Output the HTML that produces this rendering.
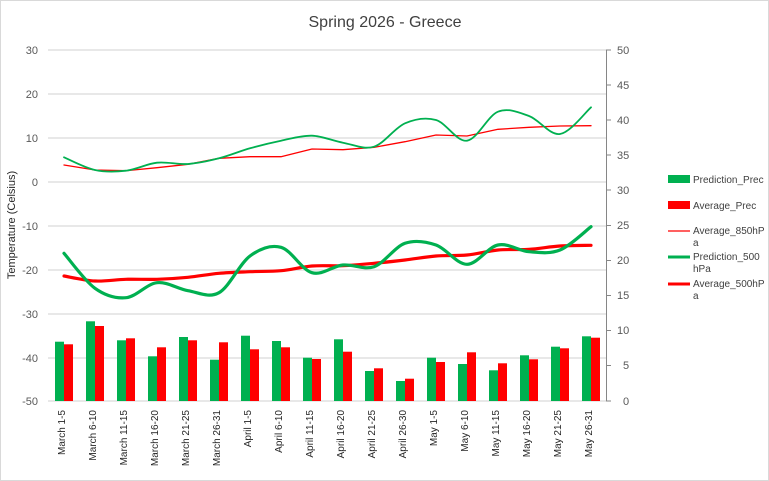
<!DOCTYPE html>
<html><head><meta charset="utf-8"><style>
html,body{margin:0;padding:0;background:#fff;}
svg{display:block;font-family:"Liberation Sans",sans-serif;}
</style></head><body>
<svg id="c" width="769" height="481" viewBox="0 0 769 481" xmlns="http://www.w3.org/2000/svg">
<rect x="0.5" y="0.5" width="768" height="480" fill="#fff" stroke="#d9d9d9"/>
<text x="385" y="27" font-size="16" text-anchor="middle" fill="#404040">Spring 2026 - Greece</text>
<g stroke="#d9d9d9" stroke-width="1.3">
<line x1="48" x2="606" y1="50" y2="50"/><line x1="48" x2="606" y1="94" y2="94"/>
<line x1="48" x2="606" y1="138" y2="138"/><line x1="48" x2="606" y1="182" y2="182"/>
<line x1="48" x2="606" y1="226" y2="226"/><line x1="48" x2="606" y1="270" y2="270"/>
<line x1="48" x2="606" y1="314" y2="314"/><line x1="48" x2="606" y1="358" y2="358"/>
<line x1="48" x2="606" y1="401" y2="401"/>
</g>
<g stroke="#868686" stroke-width="1">
<line x1="606.5" x2="606.5" y1="50" y2="401"/>
<line x1="606" x2="611" y1="50" y2="50"/><line x1="606" x2="611" y1="85" y2="85"/>
<line x1="606" x2="611" y1="120" y2="120"/><line x1="606" x2="611" y1="155" y2="155"/>
<line x1="606" x2="611" y1="190" y2="190"/><line x1="606" x2="611" y1="225.5" y2="225.5"/>
<line x1="606" x2="611" y1="260.5" y2="260.5"/><line x1="606" x2="611" y1="295.5" y2="295.5"/>
<line x1="606" x2="611" y1="330.5" y2="330.5"/><line x1="606" x2="611" y1="365.5" y2="365.5"/>
<line x1="606" x2="611" y1="401" y2="401"/>
</g>
<g font-size="11" fill="#595959" text-anchor="end">
<text x="38" y="54">30</text><text x="38" y="98">20</text><text x="38" y="142">10</text>
<text x="38" y="186">0</text><text x="38" y="230">-10</text><text x="38" y="274">-20</text>
<text x="38" y="318">-30</text><text x="38" y="362">-40</text><text x="38" y="405">-50</text>
</g>
<g font-size="11" fill="#595959" text-anchor="start">
<text x="617" y="54">50</text><text x="617" y="89">45</text><text x="617" y="124">40</text>
<text x="617" y="159">35</text><text x="617" y="194">30</text><text x="617" y="229">25</text>
<text x="617" y="264">20</text><text x="617" y="299">15</text><text x="617" y="334">10</text>
<text x="623" y="369">5</text><text x="623" y="405">0</text>
</g>
<text transform="translate(15,225) rotate(-90)" font-size="11" fill="#262626" text-anchor="middle">Temperature (Celsius)</text>
<g id="bars"></g>
<g id="xl" font-size="10" fill="#262626" text-anchor="end"></g>
<g id="lines" fill="none" stroke-linejoin="round" stroke-linecap="round"></g>
<g font-size="10" fill="#404040">
<rect x="668" y="175" width="22" height="8" fill="#00b050"/>
<text x="693" y="183">Prediction_Prec</text>
<rect x="668" y="201" width="22" height="8" fill="#ff0000"/>
<text x="693" y="209">Average_Prec</text>
<line x1="668" x2="690" y1="231" y2="231" stroke="#ff0000" stroke-width="1.3"/>
<text x="693" y="234">Average_850hP</text><text x="693" y="246">a</text>
<line x1="668" x2="690" y1="257" y2="257" stroke="#00b050" stroke-width="3"/>
<text x="693" y="260">Prediction_500</text><text x="693" y="272">hPa</text>
<line x1="668" x2="690" y1="284" y2="284" stroke="#ff0000" stroke-width="3"/>
<text x="693" y="287">Average_500hP</text><text x="693" y="299">a</text>
</g>
</svg>
<script>
var NS="http://www.w3.org/2000/svg";
var labels=["March 1-5","March 6-10","March 11-15","March 16-20","March 21-25","March 26-31","April 1-5","April 6-10","April 11-15","April 16-20","April 21-25","April 26-30","May 1-5","May 6-10","May 11-15","May 16-20","May 21-25","May 26-31"];
var gb=[341.7,321.3,340.3,356.3,337,359.7,335.7,341,357.7,339.3,371,381,357.7,364,370.3,355.3,346.7,336.3];
var rb=[344.3,326,338.3,347.3,340.3,342.3,349.3,347.3,359,351.7,368.3,378.7,362,352.3,363.3,359.3,348.3,337.7];
var p850=[157.3,170,170.7,162.7,164,158.3,148.3,140.7,135.7,142.7,146.7,123.3,120,140.7,111.7,116,134,107.3];
var a850=[165,170,170.7,167.7,164.3,158.3,156.7,156.7,149,149.7,147.3,141.7,135,136,129.3,127.3,126,125.7];
var p500=[253.3,288.3,297.7,282.7,290.7,292.7,256,247.3,272.7,265,266.7,243.3,245,264.3,245,251.7,250,226.7];
var a500=[276,281,279.3,279.3,277.3,273.3,271.7,270.7,266,265.7,263.3,260,256,255,250,249.3,246,245.3];
function cx(i){return 64+31*i;}
var bars=document.getElementById("bars"),xl=document.getElementById("xl"),ln=document.getElementById("lines");
for(var i=0;i<18;i++){
 var c=cx(i);
 var r=document.createElementNS(NS,"rect");r.setAttribute("x",c-9);r.setAttribute("y",gb[i]);r.setAttribute("width",9);r.setAttribute("height",401-gb[i]);r.setAttribute("fill","#00b050");bars.appendChild(r);
 r=document.createElementNS(NS,"rect");r.setAttribute("x",c);r.setAttribute("y",rb[i]);r.setAttribute("width",9);r.setAttribute("height",401-rb[i]);r.setAttribute("fill","#ff0000");bars.appendChild(r);
 var t=document.createElementNS(NS,"text");t.setAttribute("transform","translate("+(c+1)+",410) rotate(-90)");t.textContent=labels[i];xl.appendChild(t);
}
function smooth(ys){
 var p=ys.map(function(y,i){return [cx(i),y];});var d="M"+p[0][0]+","+p[0][1];
 for(var i=0;i<p.length-1;i++){
  var p0=p[i-1]||p[i],p1=p[i],p2=p[i+1],p3=p[i+2]||p2;
  var c1=[p1[0]+(p2[0]-p0[0])/6,p1[1]+(p2[1]-p0[1])/6],c2=[p2[0]-(p3[0]-p1[0])/6,p2[1]-(p3[1]-p1[1])/6];
  d+=" C"+c1+" "+c2+" "+p2;
 }return d;
}
function poly(ys){return "M"+ys.map(function(y,i){return cx(i)+","+y;}).join(" L");}
function add(d,col,w){var p=document.createElementNS(NS,"path");p.setAttribute("d",d);p.setAttribute("stroke",col);p.setAttribute("stroke-width",w);ln.appendChild(p);}
add(poly(a850),"#ff0000",1.3);
add(smooth(p850),"#00b050",1.8);
add(smooth(a500),"#ff0000",3.2);
add(smooth(p500),"#00b050",3.2);
</script>
</body></html>
